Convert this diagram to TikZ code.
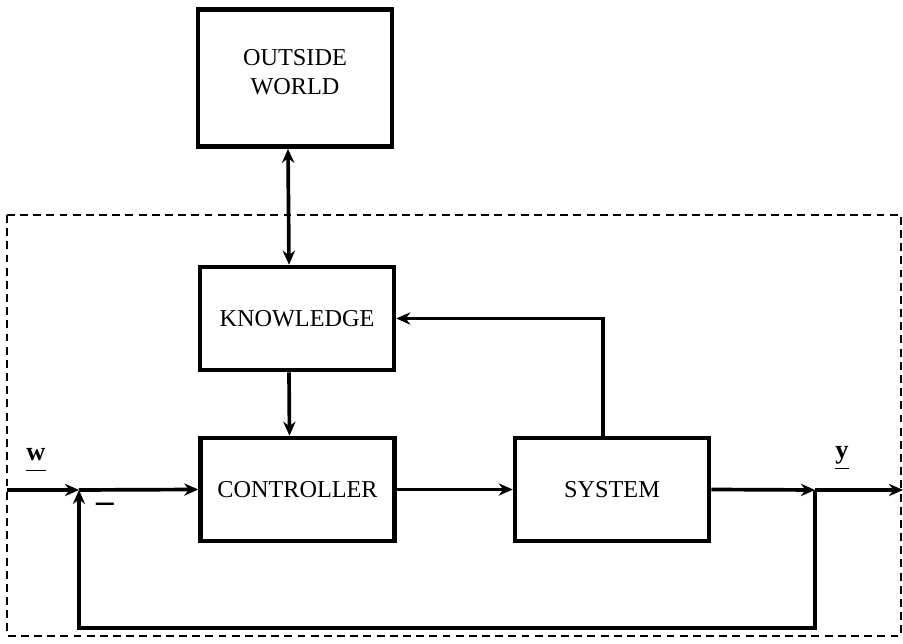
\documentclass[tikz,border=0pt]{standalone}
\usepackage{fontspec}
\setmainfont{Liberation Serif}
\usetikzlibrary{arrows.meta}

\tikzset{
	blok/.style={draw, line width=2.6pt, minimum width=3.88cm, minimum height=2.06cm,
		align=center, font=\fontsize{13.8}{16.5}\selectfont},
	sig/.style={line width=2.1pt},
	pijl/.style={sig, -{Stealth[length=8pt, width=7pt]}},
	vec/.style={font=\fontsize{15}{17}\selectfont, inner sep=0pt},
}

\begin{document}
\begin{tikzpicture}[x=0.02cm, y=-0.02cm]
		\useasboundingbox (0,0) rectangle (903,644);
		% grens van het systeem
		\draw[line width=0.9pt, dash pattern=on 4.5pt off 3pt] (7,215) rectangle (901,636);

		% blokken
		\node[blok, minimum height=2.74cm, text depth=0.25cm] (outside) at (295,78) {OUTSIDE\\WORLD};
		\node[blok] (knowledge) at (297,318.5) {KNOWLEDGE};
		\node[blok] (controller) at (297.5,489.5) {CONTROLLER};
		\node[blok] (system) at (612,489.5) {SYSTEM};

		% punten op de hoofdlijn
		\coordinate (in) at (7,490);
		\coordinate (sum) at (79,490);
		\coordinate (branch) at (815,490);
		\coordinate (out) at (903,490);
		\coordinate (fbr) at (815,628);
		\coordinate (fbl) at (79,628);

		% verbindingen
		\draw[sig, {Stealth[length=8pt, width=7pt]}-{Stealth[length=8pt, width=7pt]}]
			([xshift=-0.14cm]outside.south) -- ([xshift=-0.16cm]knowledge.north);
		\draw[pijl] ([xshift=-0.16cm]knowledge.south) -- ([xshift=-0.16cm]controller.north);
		\draw[pijl] (in) -- (sum);
		\draw[pijl] (sum) -- (controller.west);
		\draw[pijl] (controller.east) -- (system.west);
		\draw[pijl] (system.east) -- (branch);
		\draw[pijl] (branch) -- (out);
		\draw[pijl] ([xshift=-0.18cm]system.north) |- (knowledge.east);
		\draw[pijl] (branch) -- (fbr) -- (fbl) -- (sum);

		% signalen
		\node[vec] (wlab) at (36,460) {\underline{\raisebox{4pt}{\textbf{w}}}};
		\node[vec] (minlab) at (105,508) {\fontsize{20}{20}\selectfont\textbf{–}};
		\node[vec] (ylab) at (842,458) {\underline{\raisebox{4pt}{\textbf{y}}}};
	\end{tikzpicture}
\end{document}
